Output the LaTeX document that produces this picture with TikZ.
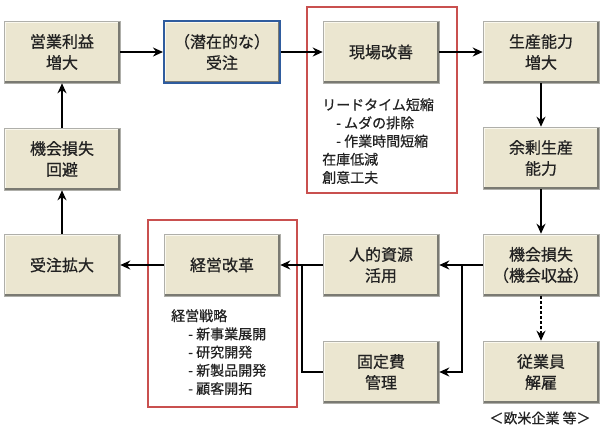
\documentclass[tikz,border=0pt]{standalone}
\usepackage{fontspec}
\setmainfont{Noto Sans CJK JP}[FakeBold=0.6]
\usetikzlibrary{arrows.meta}
\definecolor{boxfill}{HTML}{EBE6D0}
\definecolor{boxlight}{HTML}{FAF8EE}
\definecolor{boxdark}{HTML}{7A7A72}
\definecolor{redframe}{HTML}{C9504F}
\definecolor{blueframe}{HTML}{2F5C9E}
\definecolor{txt}{HTML}{222222}
\tikzset{
  box/.style={minimum width=116pt, minimum height=62pt, inner sep=0pt,
    fill=boxfill, draw=boxdark!60, line width=0.6pt, align=center,
    font=\fontsize{16}{21}\selectfont, text=txt,
    path picture={
      \draw[boxlight, line width=4pt]
        (path picture bounding box.south west) -- (path picture bounding box.north west)
        -- (path picture bounding box.north east);
      \draw[boxdark, line width=4pt]
        (path picture bounding box.north east) -- (path picture bounding box.south east)
        -- (path picture bounding box.south west);
    }},
  bluebox/.style={box, draw=blueframe, line width=2pt},
  frame/.style={draw=redframe, line width=1.8pt},
  note/.style={anchor=north west, align=left, inner sep=0pt,
    font=\fontsize{14}{18.2}\selectfont, text=txt},
  arr/.style={draw=black, line width=2pt, -{Stealth[length=10pt,width=9pt]}},
  conn/.style={draw=black, line width=2pt},
  dasharr/.style={arr, line width=1.3pt, dash pattern=on 3pt off 2pt}
}
\begin{document}
\begin{tikzpicture}[x=1pt,y=-1pt]
\useasboundingbox (0,0) rectangle (600,432);
% frames
\node[frame, minimum width=150pt, minimum height=186pt, inner sep=0pt] (fr1) at (382,100) {};
\node[frame, minimum width=149pt, minimum height=187pt, inner sep=0pt] (fr2) at (222.5,313.5) {};
% boxes
\node[box] (A) at (62,52) {営業利益\\増大};
\node[bluebox] (B) at (222,52) {（潜在的な）\\受注};
\node[box] (C) at (381,52) {現場改善};
\node[box] (D) at (541,52) {生産能力\\増大};
\node[box] (E) at (62,159) {機会損失\\回避};
\node[box] (F) at (541,158) {余剰生産\\能力};
\node[box] (G) at (62,265) {受注拡大};
\node[box] (H) at (222,265) {経営改革};
\node[box] (I) at (381,265) {人的資源\\活用};
\node[box] (J) at (541,265) {機会損失\\（機会収益）};
\node[box] (K) at (381,372) {固定費\\管理};
\node[box] (L) at (541,372) {従業員\\解雇};
% notes
\node[note] (n1) at (322,98) {リードタイム短縮\\\hspace{14pt}- ムダの排除\\\hspace{14pt}- 作業時間短縮\\在庫低減\\創意工夫};
\node[note] (n2) at (171,309) {経営戦略\\\hspace{17pt}- 新事業展開\\\hspace{17pt}- 研究開発\\\hspace{17pt}- 新製品開発\\\hspace{17pt}- 顧客開拓};
\node[font=\fontsize{14}{16}\selectfont, text=txt, inner sep=0pt] (cap) at (540,418) {＜欧米企業 等＞};
% connectors
\draw[arr] (A) -- (B);
\draw[arr] (B) -- (C);
\draw[arr] (C) -- (D);
\draw[arr] (D) -- (F);
\draw[arr] (F) -- (J);
\draw[arr] (J) -- (I);
\coordinate (jb) at (462,265);
\draw[arr] (jb) |- (K);
\draw[dasharr] (J) -- (L);
\coordinate (hb) at (302,265);
\draw[conn] (K.west) -| (hb);
\draw[arr] (I) -- (H);
\draw[arr] (H) -- (G);
\draw[arr] (G) -- (E);
\draw[arr] (E) -- (A);
\end{tikzpicture}
\end{document}
